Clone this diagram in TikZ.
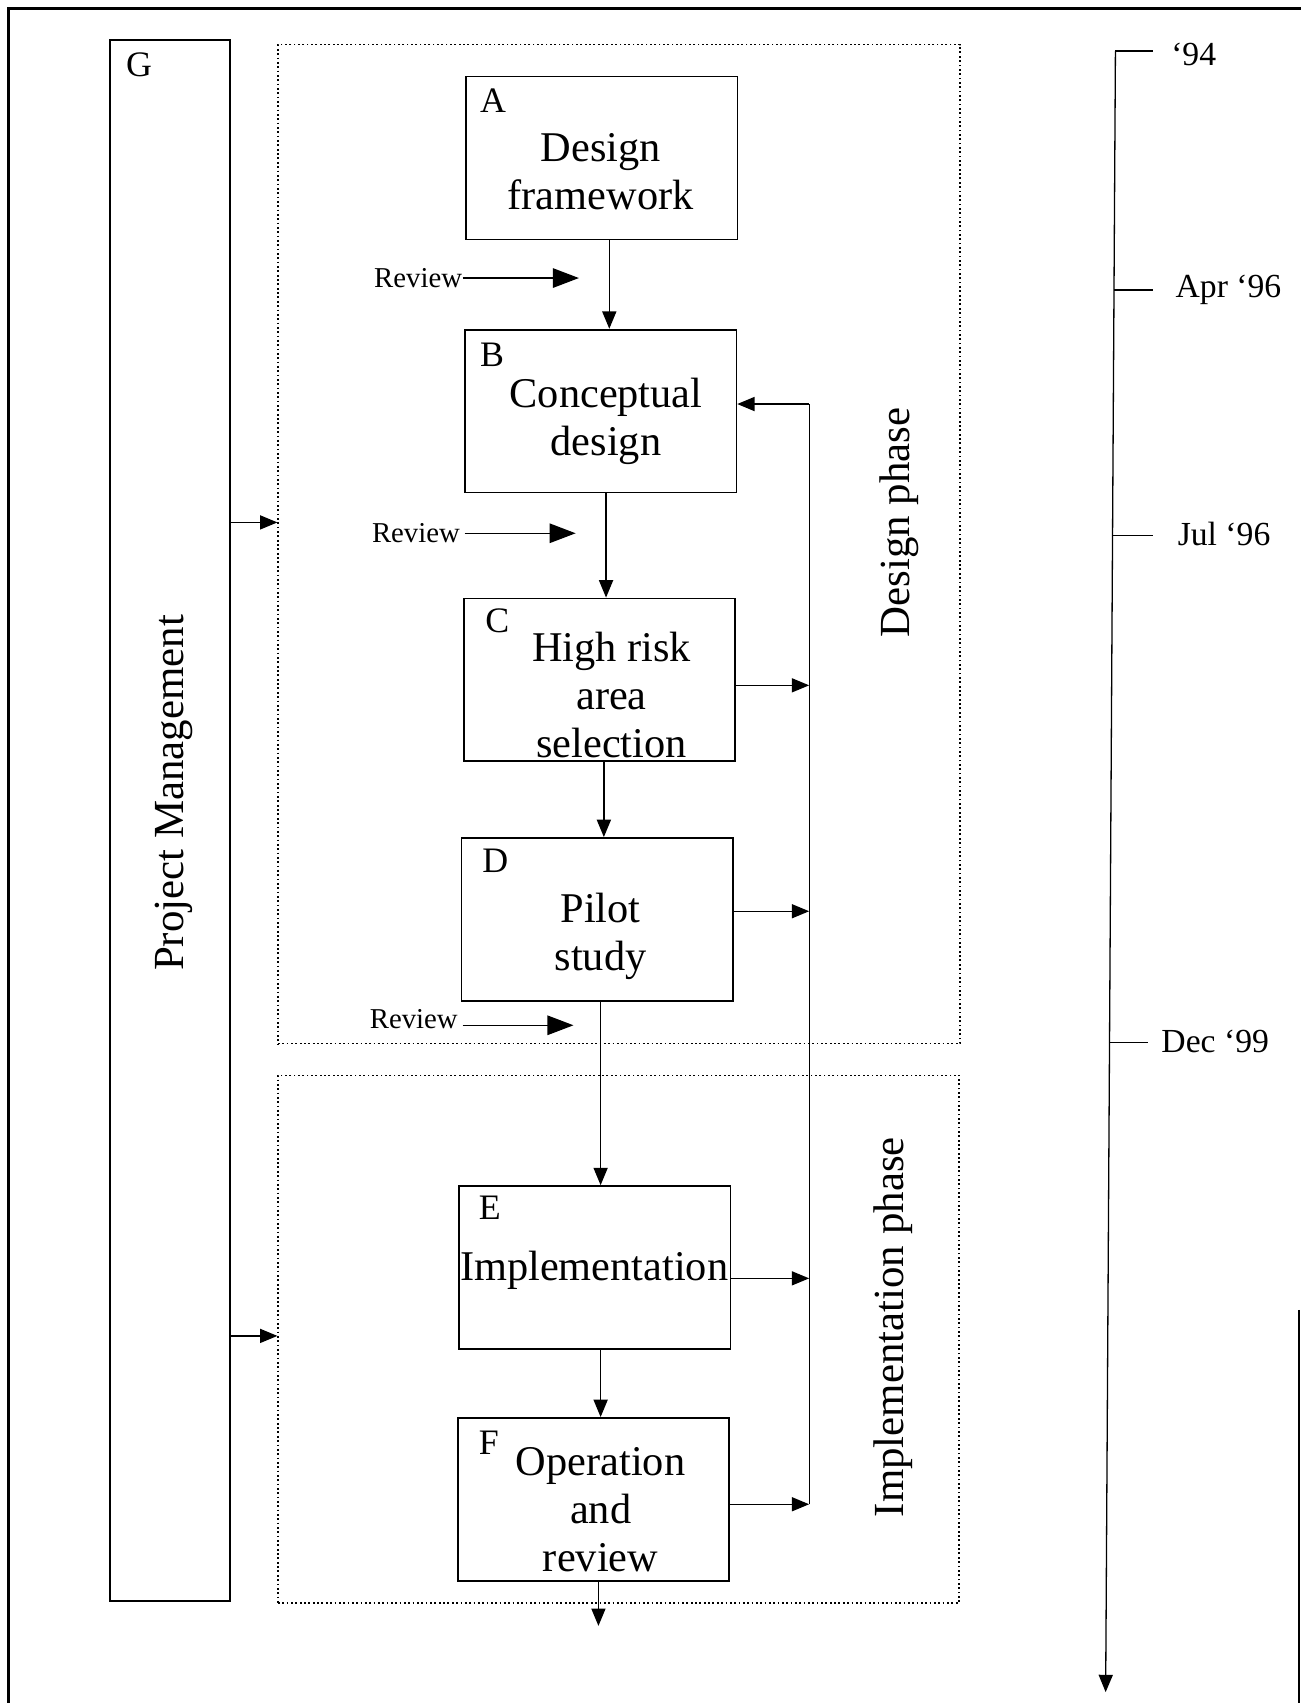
\documentclass[tikz,border=0pt]{standalone}
\usepackage{fontspec}
\setmainfont{Liberation Serif}
\usetikzlibrary{arrows.meta}

\begin{document}
\begin{tikzpicture}[x=0.5pt,y=-0.5pt,
  procbox/.style={draw, line width=0.8pt, minimum width=125pt, minimum height=75pt, inner sep=0pt},
  phasebox/.style={draw, line width=0.6pt, dash pattern=on 0.8pt off 1.2pt, inner sep=0pt},
  boxtext/.style={font=\fontsize{19.5}{22}\selectfont, align=center, inner sep=0pt},
  tag/.style={font=\fontsize{16.5}{18}\selectfont, inner sep=0pt},
  vlabel/.style={font=\fontsize{19.75}{22}\selectfont, rotate=90, inner sep=0pt},
  datelabel/.style={font=\fontsize{15.5}{18}\selectfont, anchor=base west, inner sep=0pt},
  reviewlabel/.style={font=\fontsize{13.25}{15}\selectfont, inner sep=0pt},
  flow/.style={line width=0.6pt, -{Triangle[length=8pt,width=6.5pt]}},
  reviewarrow/.style={line width=0.6pt, -{Triangle[length=12pt,width=9pt]}},
]
\useasboundingbox (0,0) rectangle (1198,1568);

% outer frame
\draw[line width=1.4pt] (8,1568) -- (8,8) -- (1198,8);
\draw[line width=1.2pt] (1196,1206) -- (1196,1568);

% project management column
\node[draw, line width=0.8pt, minimum width=55.5pt, minimum height=718.5pt, inner sep=0pt] (G) at (156.5,755.5) {};
\node[tag] (Gtag) at (128,60) {G};
\node[vlabel] (pm) at (160,730) {Project Management};

% phase frames
\node[phasebox, minimum width=314pt, minimum height=460pt] (dp) at (570,501) {};
\node[phasebox, minimum width=313.5pt, minimum height=243pt] (ip) at (569.5,1233) {};
\node[vlabel] (dplabel) at (828,481) {Design phase};
\node[vlabel] (iplabel) at (822,1222) {Implementation phase};

\draw[flow] (G.east |- 0,481) -- (dp.west |- 0,481);
\draw[flow] (G.east |- 0,1230) -- (ip.west |- 0,1230);

% process boxes
\node[procbox] (A) at (554,145.5) {};
\node[procbox] (B) at (553,378.5) {};
\node[procbox] (C) at (552,626) {};
\node[procbox] (D) at (550,846.5) {};
\node[procbox] (E) at (547.5,1167) {};
\node[procbox] (F) at (546.5,1380.5) {};

\node[tag] (Atag) at (454,93) {A};
\node[tag] (Btag) at (453,327) {B};
\node[tag] (Ctag) at (458,572) {C};
\node[tag] (Dtag) at (456,793) {D};
\node[tag] (Etag) at (451,1112) {E};
\node[tag] (Ftag) at (450,1328) {F};

\node[boxtext] (Atext) at (553,158) {Design\\framework};
\node[boxtext] (Btext) at (558,388) {Conceptual\\design};
\node[boxtext] (Ctext) at (563,640) {High risk\\area\\selection};
\node[boxtext] (Dtext) at (553,862) {Pilot\\study};
\node[boxtext] (Etext) at (547,1170) {Implementation};
\node[boxtext] (Ftext) at (553,1390) {Operation\\and\\review};

% main flow
\draw[flow] (A.south -| 561,0) -- (B.north -| 561,0);
\draw[flow] (B.south -| 558,0) -- (C.north -| 558,0);
\draw[flow] (C.south -| 556,0) -- (D.north -| 556,0);
\draw[flow] (D.south -| 553,0) -- (E.north -| 553,0);
\draw[flow] (E.south -| 553,0) -- (F.north -| 553,0);
\coordinate (out) at (551,1497);
\draw[flow] (F.south -| out) -- (out);

% review points
\node[reviewlabel] (rv1) at (385,256) {Review};
\node[reviewlabel] (rv2) at (383,491) {Review};
\node[reviewlabel] (rv3) at (381,938) {Review};
\coordinate (rv1end) at (533,256);
\coordinate (rv2end) at (530,491);
\coordinate (rv3end) at (528,944);
\draw[reviewarrow] (rv1.east) -- (rv1end);
\draw[reviewarrow] ([xshift=2pt]rv2.east) -- (rv2end);
\draw[reviewarrow] ([xshift=2pt]rv3.east |- rv3end) -- (rv3end);

% feedback loop
\coordinate (fbtop) at (745,372);
\coordinate (fbbot) at (745,1385);
\draw[line width=0.6pt] (fbbot) -- (fbtop);
\draw[flow] (fbtop) -- (B.east |- fbtop);
\draw[flow] (C.east |- 0,631) -- (fbtop |- 0,631);
\draw[flow] (D.east |- 0,839) -- (fbtop |- 0,839);
\draw[flow] (E.east |- 0,1177) -- (fbtop |- 0,1177);
\draw[flow] (F.east |- fbbot) -- (fbbot);

% time axis
\coordinate (t0) at (1027,47);
\coordinate (tend) at (1018,1558);
\draw[flow] (t0) -- (tend);
\coordinate (k1) at (1025.7,267);
\coordinate (k2) at (1024.3,493);
\coordinate (k3) at (1021.6,960);
\draw[line width=0.6pt] (t0) -- (1062,47);
\draw[line width=0.6pt] (k1) -- (1062,267);
\draw[line width=0.6pt] (k2) -- (1062,493);
\draw[line width=0.6pt] (k3) -- (1057,960);
\node[datelabel] (d0) at (1078,60) {‘94};
\node[datelabel] (d1) at (1082,274) {Apr ‘96};
\node[datelabel] (d2) at (1084,502) {Jul ‘96};
\node[datelabel] (d3) at (1069,969) {Dec ‘99};
\end{tikzpicture}
\end{document}
